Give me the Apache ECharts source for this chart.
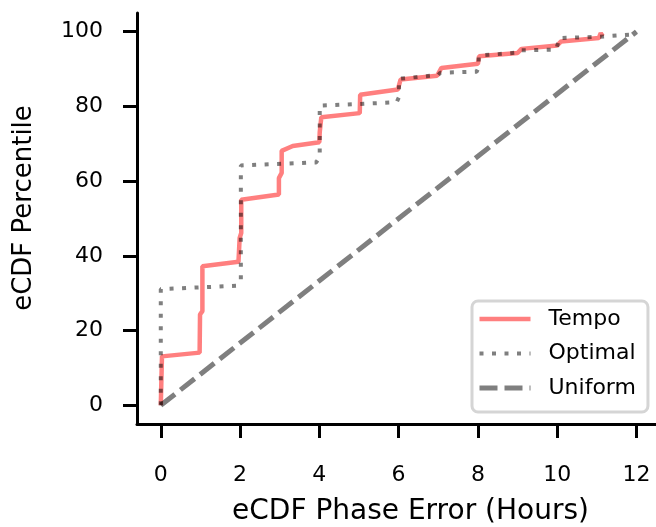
<!DOCTYPE html>
<html>
<head>
<meta charset="utf-8">
<title>eCDF Phase Error</title>
<script src="https://cdn.jsdelivr.net/npm/echarts@6/dist/echarts.min.js"></script>
<style>
  html, body { margin: 0; padding: 0; background: #fff; }
  #chart { width: 656px; height: 527px; }
</style>
</head>
<body>
<div id="chart"></div>
<script>
// eCDF curves (x in hours, y in percentile)
const tempoX = [0, 0.03, 0.98, 0.99, 1.05, 1.05, 1.96, 1.99, 2.03, 2.03, 2.98, 2.98, 3.05, 3.05, 3.33, 4.0,
  4.01, 4.05, 5.02, 5.03, 5.98, 6.05, 6.97, 7.08, 8.0, 8.03, 9.0, 9.1, 10.0, 10.1, 11.05, 11.1, 11.15];
const tempoY = [0, 13.1, 14.1, 24.3, 25.2, 37.2, 38.4, 44.8, 46.1, 55.0, 56.4, 60.8, 62.2, 68.1, 69.4, 70.4,
  73.1, 77.1, 78.2, 83.1, 84.5, 87.2, 88.2, 90.3, 91.4, 93.4, 94.3, 95.4, 96.3, 97.4, 98.3, 99.6, 98.8];

const optimalX = [0, 0, 1.91, 2.02, 2.02, 3.92, 4.01, 4.01, 5.95, 6.01, 6.01, 7.0, 7.05, 7.97, 8.02, 8.02,
  9.0, 9.05, 9.98, 10.05, 11.0, 11.05, 11.95, 12];
const optimalY = [0, 31.1, 32.0, 33.6, 64.2, 65.0, 66.5, 80.2, 81.1, 82.5, 87.4, 88.4, 89.0, 89.3, 90.5, 93.6,
  94.4, 95.0, 95.2, 98.3, 98.6, 99.0, 99.3, 100];

const uniformX = [0, 12];
const uniformY = [0, 100];

const xTicks = [0, 2, 4, 6, 8, 10, 12];
const yTicks = [0, 20, 40, 60, 80, 100];

const zip = (xs, ys) => xs.map((x, i) => [x, ys[i]]);

const font = 'DejaVu Sans';
const chart = echarts.init(document.getElementById('chart'));

const axisCommon = {
    type: 'value',
    nameLocation: 'middle',
    splitLine: {show: false},
    axisLine: {show: true, onZero: false, lineStyle: {color: '#000', width: 3}},
    axisTick: {show: true, length: 14, lineStyle: {color: '#000', width: 3}},
    axisLabel: {color: '#000', fontFamily: font, fontSize: 22},
    nameTextStyle: {color: '#000', fontFamily: font, fontSize: 28}
};

chart.setOption({
    animation: false,
    backgroundColor: '#fff',
    grid: {left: 137, top: 13, width: 547, height: 411, containLabel: false, outerBoundsMode: 'none'},
    xAxis: Object.assign({}, axisCommon, {
        name: 'eCDF Phase Error (Hours)',
        nameGap: 74,
        min: -0.6,
        max: 13.2,
        axisTick: Object.assign({}, axisCommon.axisTick, {customValues: xTicks}),
        axisLabel: Object.assign({}, axisCommon.axisLabel, {customValues: xTicks, margin: 40})
    }),
    yAxis: Object.assign({}, axisCommon, {
        name: 'eCDF Percentile',
        nameGap: 100,
        min: -5,
        max: 105,
        nameTextStyle: Object.assign({}, axisCommon.nameTextStyle, {fontSize: 26, padding: [0, 0, 0, 21]}),
        axisTick: Object.assign({}, axisCommon.axisTick, {customValues: yTicks}),
        axisLabel: Object.assign({}, axisCommon.axisLabel, {customValues: yTicks, margin: 34})
    }),
    legend: {
        orient: 'vertical',
        left: 472,
        top: 301,
        padding: [6, 12, 12, 5],
        itemGap: 10.5,
        itemWidth: 51,
        itemHeight: 14,
        selectedMode: false,
        borderColor: '#d5d5d5',
        borderWidth: 3,
        borderRadius: 6,
        backgroundColor: '#fff',
        itemStyle: {color: 'rgba(0,0,0,0)', borderWidth: 0, opacity: 0},
        lineStyle: {width: 'inherit'},
        textStyle: {color: '#000', fontFamily: font, fontSize: 22, lineHeight: 24, padding: [0, 0, 0, 13]},
        data: ['Tempo', 'Optimal', 'Uniform']
    },
    series: [
        {
            name: 'Tempo',
            type: 'line',
            data: zip(tempoX, tempoY),
            symbol: 'none',
            color: 'rgba(255,0,0,0.5)',
            lineStyle: {color: 'rgba(255,0,0,0.5)', width: 4.5}
        },
        {
            name: 'Optimal',
            type: 'line',
            data: zip(optimalX, optimalY),
            symbol: 'none',
            color: 'rgba(0,0,0,0.5)',
            lineStyle: {color: 'rgba(0,0,0,0.5)', width: 4, type: [4, 8.5], cap: 'butt'}
        },
        {
            name: 'Uniform',
            type: 'line',
            data: zip(uniformX, uniformY),
            symbol: 'none',
            color: 'rgba(0,0,0,0.5)',
            lineStyle: {color: 'rgba(0,0,0,0.5)', width: 5, type: [18, 7], cap: 'butt'}
        }
    ]
});
</script>
</body>
</html>
